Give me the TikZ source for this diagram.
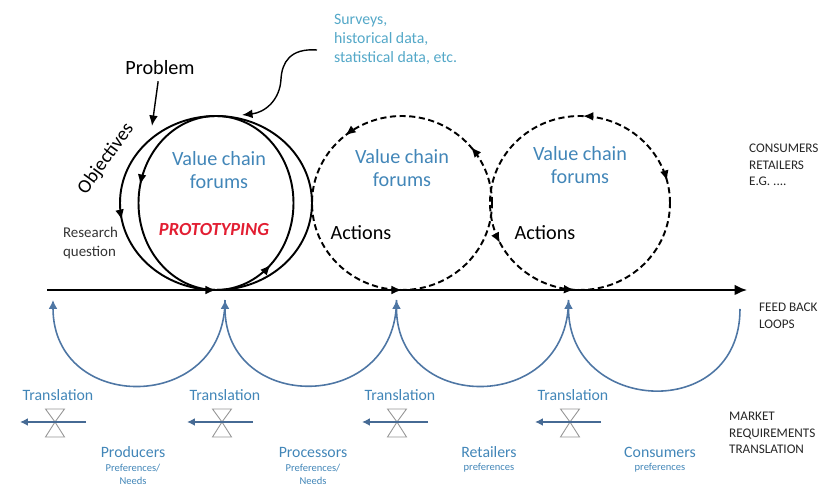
\documentclass[tikz,border=0pt]{standalone}
\usepackage{fontspec}
\setmainfont{Carlito}
\usepackage{xcolor}
\definecolor{vcblue}{RGB}{66,134,184}
\definecolor{vcteal}{RGB}{84,168,200}
\definecolor{vcred}{RGB}{226,30,50}
\definecolor{vcloop}{RGB}{78,118,164}
\definecolor{vcgray}{RGB}{150,150,150}
\usepackage{tikz}
\usetikzlibrary{arrows.meta,positioning,calc,decorations.markings}

\begin{document}
\begin{tikzpicture}[
  forum/.style={align=center,text=vcblue,font=\fontsize{11.5}{13}\selectfont},
  bigtxt/.style={font=\fontsize{11.5}{13}\selectfont},
  sidetxt/.style={align=left,anchor=west,inner sep=1pt,font=\fontsize{7.5}{9.5}\selectfont,text=black!85},
  trlabel/.style={text=vcblue,font=\fontsize{9}{10}\selectfont},
  actor/.style={text=vcblue,align=center,font=\fontsize{9}{10}\selectfont},
  pref/.style={text=vcblue,font=\fontsize{6}{7}\selectfont},
  ring/.style={line width=1.1pt},
  dring/.style={line width=1.1pt,dash pattern=on 3.5pt off 2pt},
  ar/.style={postaction={decorate,decoration={markings,
    mark=at position #1 with {\arrow{Latex[length=6pt,width=5pt]}}}}},
  arr/.style={postaction={decorate,decoration={markings,
    mark=at position #1 with {\arrowreversed{Latex[length=6pt,width=5pt]}}}}},
  fbloop/.style={vcloop,line width=0.9pt,-{Latex[length=5pt,width=5pt]}},
  trarrow/.style={vcloop!90!black,line width=1.3pt,-{Latex[length=4.5pt,width=4.5pt]}},
  hglass/.style={vcgray,line width=0.5pt,fill=white}
]
  \useasboundingbox (0,0) rectangle (16.7,9.7);
  % Rings
  \coordinate (c1) at (4.32,5.64);
  \coordinate (c2) at (8.04,5.64);
  \coordinate (c3) at (11.6,5.64);
  \draw[ring,ar=0.53,ar=0.75] (c1) ellipse [x radius=1.92,y radius=1.74];
  \draw[ring,ar=0.465,ar=0.87] (c1) ellipse [x radius=1.55,y radius=1.74];
  \draw[dring,ar=0.11,ar=0.36,ar=0.75] (c2) ellipse [x radius=1.8,y radius=1.74];
  \draw[dring,arr=0.04,ar=0.245,ar=0.575,ar=0.74] (c3) ellipse [x radius=1.8,y radius=1.74];

  \node[forum] (vc1) at (4.38,6.3) {Value chain\\forums};
  \node[font=\fontsize{10.5}{12}\selectfont\bfseries\itshape,text=vcred] (proto) at (4.28,5.1) {PROTOTYPING};
  \node[forum] (vc2) at (8.04,6.34) {Value chain\\forums};
  \node[bigtxt] (act2) at (7.22,5.04) {Actions};
  \node[forum] (vc3) at (11.6,6.4) {Value chain\\forums};
  \node[bigtxt] (act3) at (10.9,5.04) {Actions};

  % Inputs
  \node[bigtxt] (problem) at (3.2,8.34) {Problem};
  \coordinate (pbtip) at (3.04,7.18);
  \draw[thick,-{Latex[length=6pt,width=5pt]}] (problem) -- (pbtip);
  \node[bigtxt,inner sep=1pt,rotate=54,font=\fontsize{11}{12}\selectfont] (obj) at (2.12,6.52) {Objectives};
  \node[align=left,anchor=west,inner sep=1pt,font=\fontsize{8.5}{10.5}\selectfont,text=black!80] (rq) at (1.22,4.84) {Research\\question};
  \node[align=left,anchor=west,inner sep=1pt,text=vcteal,font=\fontsize{9}{10.8}\selectfont] (surv) at (6.64,8.92)
    {Surveys,\\historical data,\\statistical data, etc.};
  \coordinate (svtail) at (6.34,8.7);
  \coordinate (svtip) at (4.84,7.4);
  \draw[thick,-{Latex[length=6pt,width=5pt]}] (svtail) .. controls (5.8,8.74) and (5.64,8.45) .. (5.62,8.12)
    .. controls (5.6,7.7) and (5.3,7.45) .. (svtip);

  % Time axis
  \coordinate (axw) at (0.94,3.9);
  \coordinate (axe) at (14.94,3.9);
  \draw[line width=1.1pt,-{Latex[length=7pt,width=6pt]}] (axw) -- (axe);

  % Feed back loops
  \coordinate (fb0) at (1.06,3.7);
  \coordinate (fb1) at (4.5,3.7);
  \coordinate (fb2) at (7.93,3.7);
  \coordinate (fb3) at (11.37,3.7);
  \coordinate (fb4) at (14.8,3.52);
  \draw[fbloop] (fb1) to[out=-90,in=-90,looseness=1.7] (fb0);
  \draw[fbloop] (fb2) to[out=-90,in=-90,looseness=1.7] (fb1);
  \draw[fbloop] (fb3) to[out=-90,in=-90,looseness=1.7] (fb2);
  \draw[fbloop] (fb4) to[out=-90,in=-90,looseness=1.7] (fb3);

  % Translation
  \foreach \i/\x in {1/1.1,2/4.44,3/7.94,4/11.4} {
    \node[trlabel] (tr\i) at (\x+0.06,1.8) {Translation};
    \coordinate (hg\i) at (\x,1.26);
    \coordinate (tre\i) at (\x+0.62,1.26);
    \coordinate (trw\i) at (\x-0.7,1.26);
    \draw[hglass] (hg\i) -- ++(-0.19,0.26) -- ++(0.38,0) -- cycle
      (hg\i) -- ++(-0.19,-0.3) -- ++(0.38,0) -- cycle;
    \draw[trarrow] (tre\i) -- (trw\i);
  }
  \node[actor] (prod) at (2.66,0.66) {Producers};
  \node[pref] (prodp) at (2.66,0.34) {Preferences/};
  \node[pref] (prodn) at (2.66,0.08) {Needs};
  \node[actor] (proc) at (6.26,0.66) {Processors};
  \node[pref] (procp) at (6.26,0.34) {Preferences/};
  \node[pref] (procn) at (6.26,0.08) {Needs};
  \node[actor] (ret) at (9.78,0.66) {Retailers};
  \node[pref] (retp) at (9.78,0.34) {preferences};
  \node[actor] (cons) at (13.2,0.66) {Consumers};
  \node[pref] (consp) at (13.2,0.34) {preferences};

  % Right column
  \node[sidetxt] (eg) at (14.94,6.4) {CONSUMERS\\RETAILERS\\E.G. ....};
  \node[sidetxt] (fbl) at (15.14,3.38) {FEED BACK\\LOOPS};
  \node[sidetxt] (mrt) at (14.54,1.04) {MARKET\\REQUIREMENTS\\TRANSLATION};
\end{tikzpicture}
\end{document}
